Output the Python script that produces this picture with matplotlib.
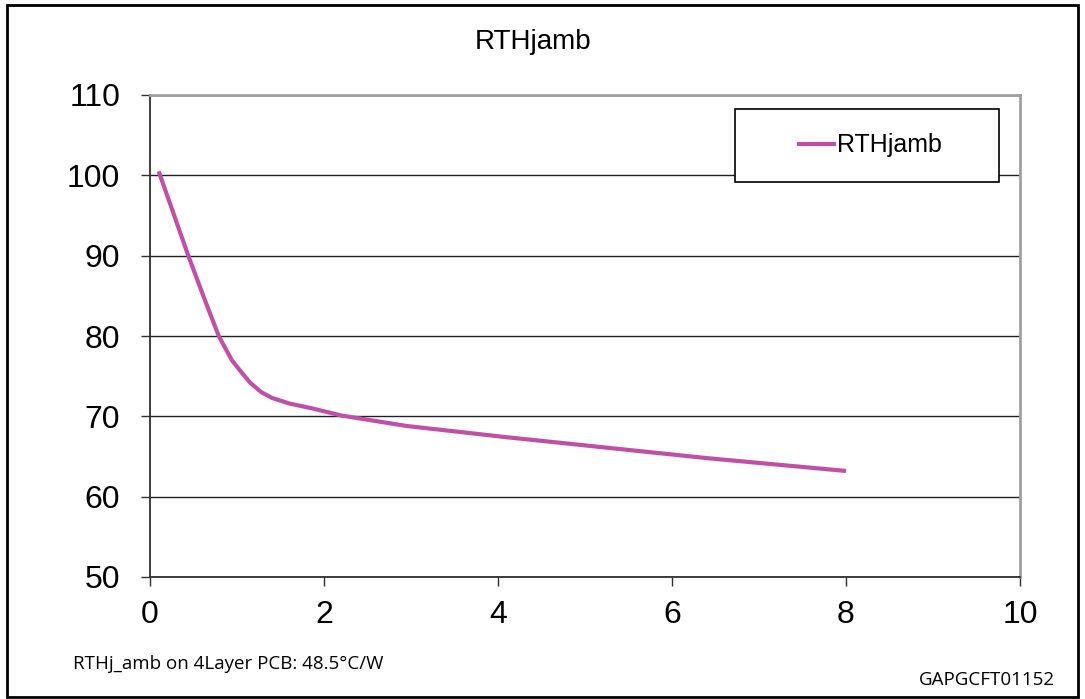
import matplotlib
matplotlib.use("Agg")
import matplotlib.pyplot as plt
from matplotlib.patches import Rectangle

# values
size_cm2 = [0.1, 0.44, 0.63, 0.79, 0.94, 1.05, 1.15, 1.28, 1.4, 1.6, 1.86, 2.2, 2.95, 4.1, 5.25, 6.4, 8.0]
rth_jamb = [100.5, 90.0, 84.5, 80.0, 77.0, 75.5, 74.2, 73.0, 72.3, 71.6, 71.0, 70.1, 68.8, 67.4, 66.1, 64.8, 63.2]

x_ticks = [0, 2, 4, 6, 8, 10]
y_ticks = [50, 60, 70, 80, 90, 100, 110]

title = "RTHjamb"
series_name = "RTHjamb"
note = "RTHj_amb on 4Layer PCB: 48.5°C/W"
code = "GAPGCFT01152"

line_color = "#c04fa6"

plt.rcParams["font.family"] = ["Liberation Sans", "DejaVu Sans"]

fig = plt.figure(figsize=(10.85, 6.99), dpi=100)
ax = fig.add_axes([150 / 1085, 122 / 699, 870 / 1085, 482 / 699])

ax.plot(size_cm2, rth_jamb, color=line_color, lw=3, solid_capstyle="butt",
        solid_joinstyle="round", zorder=3)

ax.set_xlim(0, 10)
ax.set_ylim(50, 110)
ax.set_xticks(x_ticks)
ax.set_yticks(y_ticks)
ax.tick_params(axis="both", labelsize=23, direction="out", length=6.5, width=1, color="#303030")
ax.tick_params(axis="y", pad=15)
ax.tick_params(axis="x", pad=10)

ax.yaxis.grid(True, color="#202020", lw=1)
ax.set_axisbelow(True)
for side in ("top", "right"):
    ax.spines[side].set_color("#a0a0a0")
    ax.spines[side].set_linewidth(2)
for side in ("left", "bottom"):
    ax.spines[side].set_color("#303030")
    ax.spines[side].set_linewidth(1.3)

# legend box
box = Rectangle((0.6724, 0.8195), 0.3035, 0.1515, transform=ax.transAxes,
                facecolor="white", edgecolor="black", lw=1.2, zorder=4)
ax.add_patch(box)
leg = ax.legend([series_name], loc="center", bbox_to_anchor=(0.6724 + 0.3035 / 2 + 0.003, 0.8195 + 0.1515 / 2),
                frameon=False, fontsize=18, handlelength=1.55, handletextpad=0.05)
leg.set_zorder(5)

fig.text(533 / 1085, 1 - 42 / 699, title, ha="center", va="center", fontsize=20)

fig.text(73 / 1085, 1 - 664 / 699, note, ha="left", va="center", fontsize=13.5,
         family=["Open Sans", "DejaVu Sans"])
fig.text(1055 / 1085, 1 - 680 / 699, code, ha="right", va="center", fontsize=13.5,
         family=["Open Sans", "DejaVu Sans"])

# outer frame
fig.patches.append(Rectangle((7 / 1085, 2 / 699), 1071 / 1085, 692 / 699, transform=fig.transFigure,
                             fill=False, edgecolor="black", lw=2))

fig.savefig("out.png", dpi=100)
